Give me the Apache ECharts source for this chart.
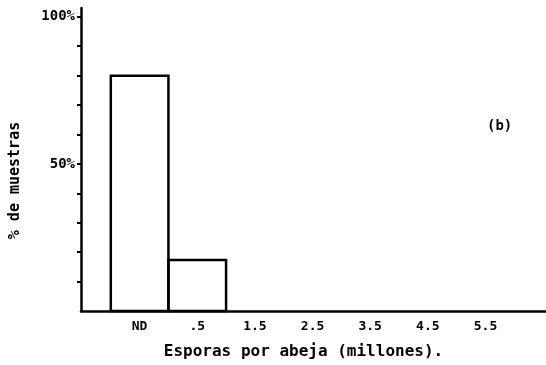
<!DOCTYPE html>
<html>
<head>
<meta charset="utf-8">
<script src="https://cdn.jsdelivr.net/npm/echarts@6/dist/echarts.min.js"></script>
<style>
  html, body { margin: 0; padding: 0; background: #fff; }
  #chart { width: 546px; height: 365px; }
</style>
</head>
<body>
<div id="chart"></div>
<script>
// 数据
var binLabels = ['ND', '.5', '1.5', '2.5', '3.5', '4.5', '5.5'];
var percents = [80, 17.3, 0, 0, 0, 0, 0];
var yTicks = [10, 20, 30, 40, 50, 60, 70, 80, 90, 100];
var yLabels = [50, 100];

(function () {
    var dom = document.getElementById('chart');
    var myChart = echarts.init(dom);

    var font = '"DejaVu Sans Mono", "Liberation Mono", monospace';
    var binIdx = binLabels.map(function (l, i) { return i; });

    var option = {
        animation: false,
        grid: {
            left: 78,
            right: 0,
            top: 8,
            bottom: 48
        },
        xAxis: {
            type: 'value',
            min: -1.017,
            max: 7.05,
            name: 'Esporas por abeja (millones).',
            nameLocation: 'middle',
            nameGap: 33,
            nameTextStyle: {
                color: '#000',
                fontFamily: font,
                fontWeight: 'bold',
                fontSize: 16,
                padding: [0, 20, 0, 0]
            },
            axisLine: {
                onZero: false,
                lineStyle: { color: '#000', width: 2.5 }
            },
            axisTick: { show: false },
            splitLine: { show: false },
            axisLabel: {
                customValues: binIdx,
                color: '#000',
                fontFamily: font,
                fontWeight: 'bold',
                fontSize: 13,
                margin: 9,
                formatter: function (v) {
                    return binLabels[Math.round(v)];
                }
            }
        },
        yAxis: {
            type: 'value',
            min: 0,
            max: 103,
            name: '% de muestras',
            nameLocation: 'middle',
            nameRotate: 90,
            nameGap: 58,
            nameTextStyle: {
                color: '#000',
                fontFamily: font,
                fontWeight: 'bold',
                fontSize: 15,
                padding: [0, 0, 0, -42]
            },
            axisLine: {
                show: true,
                onZero: false,
                lineStyle: { color: '#000', width: 2.5 }
            },
            axisTick: {
                show: true,
                customValues: yTicks,
                length: 4,
                lineStyle: { color: '#000', width: 2 }
            },
            splitLine: { show: false },
            axisLabel: {
                customValues: yLabels,
                color: '#000',
                fontFamily: font,
                fontWeight: 'bold',
                fontSize: 14,
                margin: 6,
                formatter: function (v) { return v + '%'; }
            }
        },
        graphic: [{
            type: 'text',
            left: 487,
            top: 119,
            style: {
                text: '(b)',
                fill: '#000',
                font: 'bold 14px ' + font
            }
        }],
        series: [{
            type: 'custom',
            data: percents.map(function (p, i) { return [i, p]; }),
            renderItem: function (params, api) {
                var i = api.value(0);
                var v = api.value(1);
                if (!v) { return; }
                var p0 = api.coord([i - 0.5, v]);
                var p1 = api.coord([i + 0.5, 0]);
                return {
                    type: 'rect',
                    shape: { x: p0[0], y: p0[1], width: p1[0] - p0[0], height: p1[1] - p0[1] },
                    style: { fill: 'none', stroke: '#000', lineWidth: 2.5 }
                };
            }
        }]
    };

    if (option && typeof option === 'object') {
        myChart.setOption(option);
    }

    window.addEventListener('resize', function () {
        myChart.resize();
    });
})();
</script>
</body>
</html>
